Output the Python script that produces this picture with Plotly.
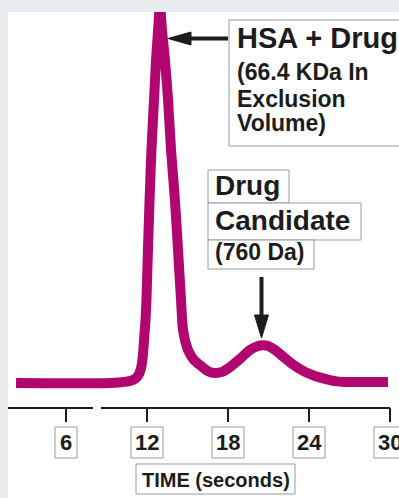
import plotly.graph_objects as go

# Size-exclusion chromatogram: elution time (s) vs. relative detector signal
time_s = [2.30, 9.26, 10.37, 10.96, 11.33, 11.56, 11.70, 11.78, 11.89, 11.96,
          12.07, 12.19, 12.33, 12.52, 12.67, 12.85, 12.96, 13.11, 13.33, 13.56,
          13.78, 14.07, 14.30, 14.52, 14.67, 15.04, 15.48, 16.00, 16.52, 17.04,
          17.56, 18.15, 18.89, 19.63, 20.22, 20.59, 20.96, 21.48, 22.22, 22.96,
          23.70, 24.44, 25.19, 25.93, 26.67, 29.85]
signal = [0.000, 0.000, 0.003, 0.008, 0.019, 0.040, 0.076, 0.116, 0.170, 0.224,
          0.358, 0.493, 0.628, 0.763, 0.871, 0.965, 1.019, 0.951, 0.871, 0.763,
          0.628, 0.493, 0.358, 0.224, 0.143, 0.089, 0.062, 0.046, 0.032, 0.027,
          0.030, 0.043, 0.065, 0.089, 0.100, 0.102, 0.100, 0.089, 0.067, 0.046,
          0.030, 0.019, 0.011, 0.005, 0.003, 0.003]

tick_vals = [6, 12, 18, 24, 30]
tick_text = ["6", "12", "18", "24", "30"]
axis_title = "TIME (seconds)"
axis_break = [8.0, 8.59]          # gap drawn in the time axis

hsa_lines = ["HSA + Drug", "(66.4 KDa In", "Exclusion", "Volume)"]
drug_lines = ["Drug", "Candidate", "(760 Da)"]

W, H = 399, 498
ML, MT = 8, 12
X_RANGE = [1.7037, 30.6667]
Y_RANGE = [-0.30997, 1.0]
PX_PER_S = (W - ML) / (X_RANGE[1] - X_RANGE[0])
PX_PER_U = (H - MT) / (Y_RANGE[1] - Y_RANGE[0])

LINE_COLOR = "#b1066f"
INK = "#1c1c1c"
BOX = "#9a9a9a"
TXT_FONT = "Liberation Sans, Arial, sans-serif"
NARROW_FONT = "Liberation Sans Narrow, Arial Narrow, Liberation Sans, sans-serif"


def pxp(x):
    """page pixel x -> paper x"""
    return (x - ML) / (W - ML)


def pyp(y):
    """page pixel y -> paper y"""
    return (H - y) / (H - MT)


def ydat(y):
    """page pixel y -> data y"""
    return Y_RANGE[1] - (y - MT) / PX_PER_U


fig = go.Figure()
fig.add_trace(go.Scatter(
    x=time_s, y=signal, mode="lines",
    line=dict(color=LINE_COLOR, width=10, shape="spline", smoothing=0.7),
    hoverinfo="skip",
))

shapes = []
annotations = []

# time axis with a break
y_axis_line = ydat(408)
y_tick_end = ydat(422)
shapes.append(dict(type="line", xref="x", yref="y", x0=X_RANGE[0], x1=axis_break[0],
                   y0=y_axis_line, y1=y_axis_line, line=dict(color=INK, width=2)))
shapes.append(dict(type="line", xref="x", yref="y", x0=axis_break[1], x1=tick_vals[-1],
                   y0=y_axis_line, y1=y_axis_line, line=dict(color=INK, width=2)))
for v, t in zip(tick_vals, tick_text):
    shapes.append(dict(type="line", xref="x", yref="y", x0=v, x1=v,
                       y0=y_axis_line, y1=y_tick_end, line=dict(color=INK, width=2)))
    half = (11 if len(t) == 1 else 16) / PX_PER_S
    shapes.append(dict(type="rect", xref="x", yref="y", x0=v - half, x1=v + half,
                       y0=ydat(427), y1=ydat(458), fillcolor="white",
                       line=dict(color=BOX, width=1)))
    annotations.append(dict(xref="x", yref="y", x=v, y=ydat(442.5), text="<b>%s</b>" % t,
                            showarrow=False, xanchor="center", yanchor="middle",
                            font=dict(family=NARROW_FONT, size=22, color=INK)))

# axis title box
shapes.append(dict(type="rect", xref="paper", yref="paper", x0=pxp(136), x1=pxp(295),
                   y0=pyp(494), y1=pyp(464), fillcolor="white", line=dict(color=BOX, width=1)))
annotations.append(dict(xref="paper", yref="paper", x=pxp(215.5), y=pyp(480),
                        text="<b>%s</b>" % axis_title, showarrow=False,
                        xanchor="center", yanchor="middle",
                        font=dict(family=NARROW_FONT, size=20, color=INK)))

# HSA + Drug label
shapes.append(dict(type="rect", xref="paper", yref="paper", x0=pxp(229), x1=pxp(410),
                   y0=pyp(146), y1=pyp(20), fillcolor="white", line=dict(color=BOX, width=1)))
hsa_layout = [(38, 29), (72, 23), (99, 23), (123, 23)]
for line, (yc, fs) in zip(hsa_lines, hsa_layout):
    annotations.append(dict(xref="paper", yref="paper", x=pxp(235), y=pyp(yc),
                            text="<b>%s</b>" % line, showarrow=False,
                            xanchor="left", yanchor="middle",
                            font=dict(family=TXT_FONT, size=fs, color=INK)))

# arrow pointing at the first peak
shapes.append(dict(type="line", xref="paper", yref="paper", x0=pxp(228), x1=pxp(186),
                   y0=pyp(38.5), y1=pyp(38.5), line=dict(color=INK, width=4)))
shapes.append(dict(type="path", xref="paper", yref="paper",
                   path="M %f %f L %f %f L %f %f Z" % (pxp(168), pyp(38.5), pxp(191), pyp(32),
                                                       pxp(191), pyp(45)),
                   fillcolor=INK, line=dict(color=INK, width=1)))

# Drug Candidate label: stacked boxes
drug_boxes = [(208, 289, 170, 203), (208, 361, 203, 240), (208, 314, 240, 269)]
drug_text = [(185, 28), (220, 28), (252, 23)]
for line, (x0, x1, y0, y1), (yc, fs) in zip(drug_lines, drug_boxes, drug_text):
    shapes.append(dict(type="rect", xref="paper", yref="paper", x0=pxp(x0), x1=pxp(x1),
                       y0=pyp(y1), y1=pyp(y0), fillcolor="white",
                       line=dict(color=BOX, width=1)))
    annotations.append(dict(xref="paper", yref="paper", x=pxp(213), y=pyp(yc),
                            text="<b>%s</b>" % line, showarrow=False,
                            xanchor="left", yanchor="middle",
                            font=dict(family=TXT_FONT, size=fs, color=INK)))

# arrow pointing down at the second peak
shapes.append(dict(type="line", xref="paper", yref="paper", x0=pxp(261.5), x1=pxp(261.5),
                   y0=pyp(277), y1=pyp(318), line=dict(color=INK, width=4)))
shapes.append(dict(type="path", xref="paper", yref="paper",
                   path="M %f %f L %f %f L %f %f Z" % (pxp(261.5), pyp(338), pxp(254.5), pyp(315),
                                                       pxp(268.5), pyp(315)),
                   fillcolor=INK, line=dict(color=INK, width=1)))

fig.update_layout(
    width=W, height=H,
    margin=dict(l=ML, r=0, t=MT, b=0),
    paper_bgcolor="#e9ecee",
    plot_bgcolor="white",
    showlegend=False,
    xaxis=dict(range=X_RANGE, visible=False, fixedrange=True),
    yaxis=dict(range=Y_RANGE, visible=False, fixedrange=True),
    shapes=shapes,
    annotations=annotations,
)

fig.write_html("out.html")
